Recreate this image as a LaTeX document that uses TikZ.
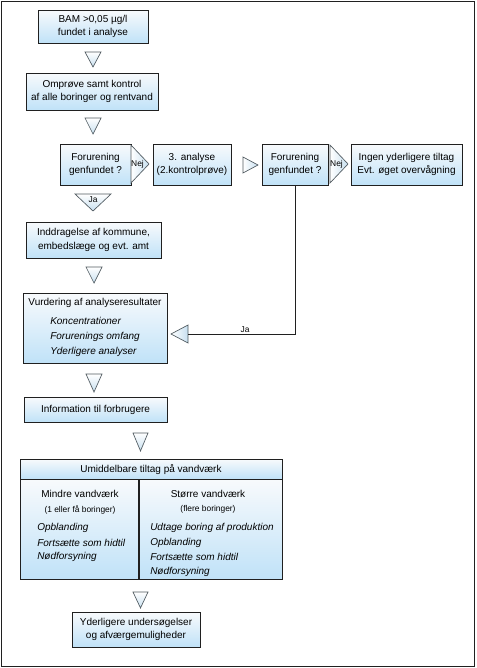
\documentclass[tikz,border=0pt]{standalone}
\usepackage{fontspec}
\setmainfont{Liberation Sans}
\usetikzlibrary{positioning,calc}
\definecolor{bamFrame}{HTML}{202020}
\definecolor{bamBlue}{HTML}{C0E2F8}
\definecolor{bamPale}{HTML}{F8FAFC}
\definecolor{bamTri}{HTML}{C8E0F0}
\definecolor{bamEdge}{HTML}{505A60}

\begin{document}
\begin{tikzpicture}[x=0.75pt,y=-0.75pt,
    font=\fontsize{7.5}{10}\selectfont,
    flowbox/.style={draw=bamFrame,line width=0.6pt,top color=bamPale,bottom color=bamBlue,
                    align=center,inner sep=0pt},
    flowtri/.style={draw=bamEdge,line width=0.5pt,top color=white,bottom color=bamTri},
    sidetri/.style={draw=bamEdge,line width=0.5pt,left color=white,right color=bamTri},
    smalltxt/.style={font=\fontsize{6.3}{7.5}\selectfont},
    listtxt/.style={font=\fontsize{7.5}{11}\selectfont\itshape,anchor=west,inner sep=0pt}]
  \useasboundingbox (0,0) rectangle (476,668);
  \draw[bamFrame,line width=0.8pt] (1.5,1.5) rectangle (474.5,666.5);

  % main column
  \node[flowbox,minimum width=82.5pt,minimum height=24.75pt] (bam) at (93,26.5)
    {BAM >0,05 µg/l\\fundet i analyse};
  \node[flowbox,minimum width=99pt,minimum height=27.75pt] (omp) at (92,91.5)
    {Omprøve samt kontrol\\af alle boringer og rentvand};
  \node[flowbox,minimum width=53.25pt,minimum height=30.75pt] (fund1) at (95.5,164.5)
    {Forurening\\genfundet ?};
  \node[flowbox,minimum width=58.5pt,minimum height=30.75pt] (ana) at (192,164.5)
    {3. analyse\\(2.kontrolprøve)};
  \node[flowbox,minimum width=49.5pt,minimum height=30.75pt] (fund2) at (295,164.5)
    {Forurening\\genfundet ?};
  \node[flowbox,minimum width=83.25pt,minimum height=30.75pt] (ingen) at (406.5,164.5)
    {Ingen yderligere tiltag\\Evt. øget overvågning};
  \node[flowbox,minimum width=101.25pt,minimum height=27pt] (indd) at (93.5,240)
    {Inddragelse af kommune,\\embedslæge og evt. amt};
  \node[flowbox,minimum width=108pt,minimum height=52.5pt] (vurd) at (95,328) {};
  \node[anchor=north,inner sep=0pt] (vurdtitle) at (95,298) {Vurdering af analyseresultater};
  \node[listtxt,align=left] (vurdlist) at (50,337)
    {Koncentrationer\\Forurenings omfang\\Yderligere analyser};
  \node[flowbox,minimum width=107.25pt,minimum height=18.75pt] (info) at (95.5,409.5)
    {Information til forbrugere};

  % tiltag box
  \node[flowbox,minimum width=196.5pt,minimum height=75pt] (umid) at (151,529) {};
  \node[flowbox,minimum width=196.5pt,minimum height=15pt] (umidhead) at (151,469)
    {Umiddelbare tiltag på vandværk};
  \draw[bamFrame,line width=1.4pt] (139,479) -- (139,579);
  \node (mindre) at (80,494) {Mindre vandværk};
  \node[smalltxt,below=-1pt of mindre] (mindresub) {(1 eller få boringer)};
  \node (storre) at (208,494) {Større vandværk};
  \node[smalltxt,below=-1pt of storre] (storresub) {(flere boringer)};
  \node[listtxt] (m1) at (37,528) {Opblanding};
  \node[listtxt] (m2) at (37,542.5) {Fortsætte som hidtil};
  \node[listtxt] (m3) at (37,557) {Nødforsyning};
  \node[listtxt] (s1) at (150,528) {Udtage boring af produktion};
  \node[listtxt] (s2) at (150,542.5) {Opblanding};
  \node[listtxt] (s3) at (150,557) {Fortsætte som hidtil};
  \node[listtxt] (s4) at (150,571.5) {Nødforsyning};

  \node[flowbox,minimum width=96pt,minimum height=26.25pt] (yder) at (136,629.5)
    {Yderligere undersøgelser\\og afværgemuligheder};

  % triangles
  \draw[flowtri] (85,52) -- (101,52) -- (93,67) -- cycle;
  \draw[flowtri] (85,118) -- (101,118) -- (93,134) -- cycle;
  \draw[sidetri] (131,145) -- (149,164) -- (131,183) -- cycle;
  \node[smalltxt,inner sep=0pt] (nej1) at (137.5,164) {Nej};
  \draw[sidetri] (243,157) -- (258,165) -- (243,173) -- cycle;
  \draw[sidetri] (330,145) -- (348,164) -- (330,183) -- cycle;
  \node[smalltxt,inner sep=0pt] (nej2) at (336.5,164) {Nej};
  \draw[flowtri] (75,194) -- (111,194) -- (93,211) -- cycle;
  \node[smalltxt,inner sep=0pt] (ja1) at (93,200) {Ja};
  \draw[flowtri] (86,267) -- (102,267) -- (94,283) -- cycle;
  \draw[sidetri] (188,325) -- (171,334) -- (188,343) -- cycle;
  \draw[flowtri] (86,374) -- (102,374) -- (94,392) -- cycle;
  \draw[flowtri] (133,433) -- (148,433) -- (140.5,451) -- cycle;
  \draw[flowtri] (133,592) -- (148,592) -- (140.5,608) -- cycle;

  % return line
  \coordinate (jatip) at (188,334);
  \draw[bamFrame,line width=0.6pt] (fund2.south) |- (jatip);
  \node[smalltxt,anchor=south,inner sep=1pt] (ja2) at (245,334) {Ja};
\end{tikzpicture}
\end{document}
